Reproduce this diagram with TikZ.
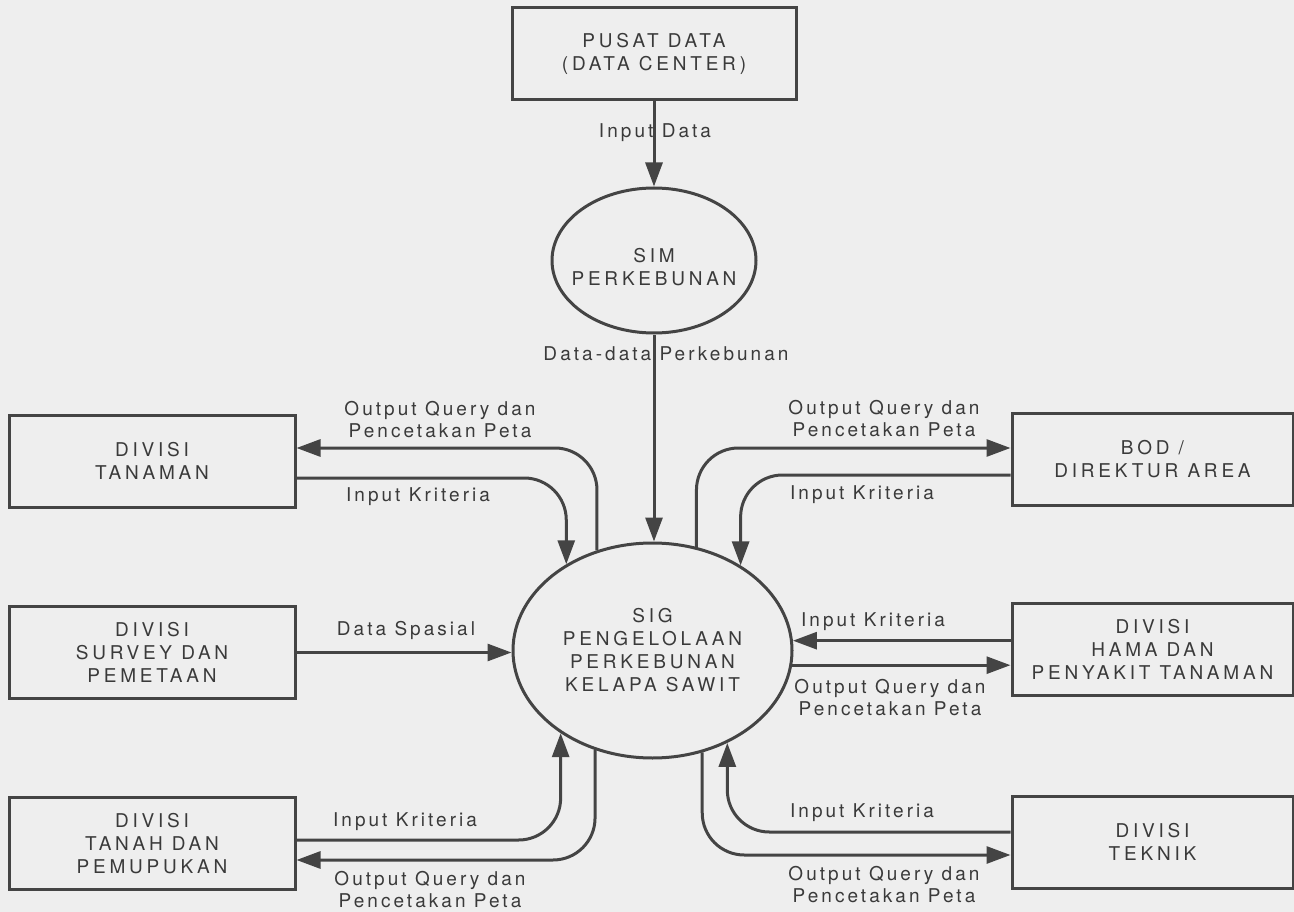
\documentclass[tikz,border=0pt]{standalone}
\usepackage{fontspec}
\usetikzlibrary{arrows.meta,shapes.geometric}
\newfontfamily\boxfont[LetterSpace=20]{TeX Gyre Heros}
\newfontfamily\flowfont[LetterSpace=16]{TeX Gyre Heros}
\definecolor{paper}{HTML}{EEEEEE}
\definecolor{ink}{HTML}{444444}
\definecolor{inktext}{HTML}{3A3A3A}

\begin{document}
\begin{tikzpicture}[
  x=1pt,y=-1pt,
  entity/.style={draw=ink,line width=3pt,rectangle,minimum width=284pt,minimum height=92pt,
    align=center,text=inktext,font=\boxfont\fontsize{19}{23}\selectfont},
  process/.style={draw=ink,line width=3pt,ellipse},
  processtext/.style={align=center,text=inktext,inner sep=0pt,font=\boxfont\fontsize{19}{23}\selectfont},
  flow/.style={draw=ink,line width=3pt,rounded corners=42pt,-{Triangle[length=24pt,width=17pt]}},
  flowlabel/.style={align=center,text=inktext,inner sep=0pt,font=\flowfont\fontsize{19}{22}\selectfont}
  ]
  \fill[paper]
    (0,0)
    rectangle
    (1294,912);
  \useasboundingbox
    (0,0)
    rectangle
    (1294,912);
  \node[entity] (pusat) at (654,54) {PUSAT DATA\\(DATA CENTER)};
  \node[process,minimum width=204pt,minimum height=145pt] (sim) at (654,260.5) {};
  \node[processtext] (simtext) at (654,267) {SIM\\PERKEBUNAN};
  \node[process,minimum width=279pt,minimum height=215pt] (sig) at (652.5,650.5) {};
  \node[processtext] (sigtext) at (sig) {SIG\\PENGELOLAAN\\PERKEBUNAN\\KELAPA SAWIT};
  \node[entity,minimum width=286pt] (tanaman) at (152,461) {DIVISI\\TANAMAN};
  \node[entity,minimum width=286pt] (survey) at (152,652.5) {DIVISI\\SURVEY DAN\\PEMETAAN};
  \node[entity,minimum width=286pt] (tanah) at (152,843.5) {DIVISI\\TANAH DAN\\PEMUPUKAN};
  \node[entity,minimum width=281pt] (bod) at (1152.5,459) {BOD /\\DIREKTUR AREA};
  \node[entity,minimum width=281pt] (hama) at (1152.5,649.5) {DIVISI\\HAMA DAN\\PENYAKIT TANAMAN};
  \node[entity,minimum width=281pt] (teknik) at (1152.5,842) {DIVISI\\TEKNIK};
  \draw[flow]
    (pusat)
    --
    (sim);
  \draw[flow]
    (sim)
    --
    (sim |- sig.north);
  \draw[flow]
    (sig.119.4)
    |-
    (tanaman.east |- 0,448);
  \draw[flow]
    (tanaman.east |- 0,478)
    -|
    (sig.135.2);
  \draw[flow]
    (sig.67.5)
    |-
    (bod.west |- 0,448);
  \draw[flow]
    (bod.west |- 0,475)
    -|
    (sig.44.8);
  \draw[flow]
    (survey.east)
    --
    (survey.east -| sig.west);
  \draw[flow]
    (hama.west |- sig.4.7)
    --
    (sig.4.7);
  \draw[flow]
    (sig.-6.8)
    --
    (hama.west |- sig.-6.8);
  \draw[flow]
    (tanah.east |- 0,840)
    -|
    (sig.222.1);
  \draw[flow]
    (sig.240.6)
    |-
    (tanah.east |- 0,860);
  \draw[flow]
    (teknik.west |- 0,832)
    -|
    (sig.309.9);
  \draw[flow]
    (sig.296.2)
    |-
    (teknik.west |- 0,855);
  \node[flowlabel] (lblpusat) at (655,133) {Input Data};
  \node[flowlabel] (lblsim) at (666,354) {Data-data Perkebunan};
  \node[flowlabel] (lbltanamanout) at (440,420) {Output Query dan\\Pencetakan Peta};
  \node[flowlabel] (lbltanamanin) at (418,497) {Input Kriteria};
  \node[flowlabel] (lblbodout) at (884,419) {Output Query dan\\Pencetakan Peta};
  \node[flowlabel] (lblbodin) at (862,495) {Input Kriteria};
  \node[flowlabel] (lblsurvey) at (406,630) {Data Spasial};
  \node[flowlabel] (lblhamain) at (873,622) {Input Kriteria};
  \node[flowlabel] (lblhamaout) at (890,698) {Output Query dan\\Pencetakan Peta};
  \node[flowlabel] (lbltanahin) at (405,822) {Input Kriteria};
  \node[flowlabel] (lbltanahout) at (430,890) {Output Query dan\\Pencetakan Peta};
  \node[flowlabel] (lblteknikin) at (862,813) {Input Kriteria};
  \node[flowlabel] (lblteknikout) at (884,885) {Output Query dan\\Pencetakan Peta};
\end{tikzpicture}
\end{document}
